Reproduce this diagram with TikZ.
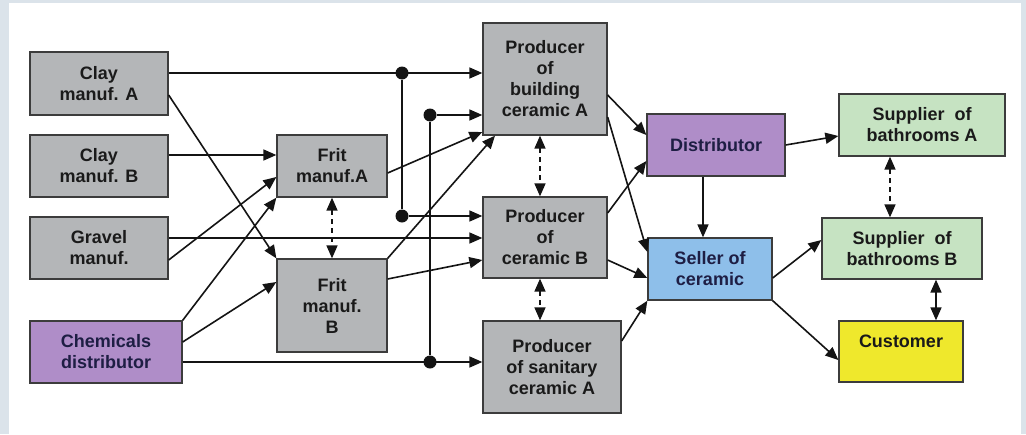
\documentclass[tikz,border=0pt]{standalone}
\usepackage{fontspec}
\setmainfont{Liberation Sans}
\usetikzlibrary{arrows.meta}

\definecolor{frame}{HTML}{DBE3EA}
\definecolor{boxline}{HTML}{3C3C3C}
\definecolor{linec}{HTML}{141414}
\definecolor{txtdark}{HTML}{1A1A1A}
\definecolor{txtnavy}{HTML}{1E1E44}
\definecolor{fgrey}{HTML}{B4B6B8}
\definecolor{fpurple}{HTML}{AF8DC8}
\definecolor{fblue}{HTML}{8EBFEA}
\definecolor{fgreen}{HTML}{C6E3C2}
\definecolor{fyellow}{HTML}{EFE82C}

% box given by its corners (x1,y1)-(x2,y2), y measured downwards
\newcommand\mkbox[7]{%
  \node[#6, minimum width={#4-#2}, minimum height={#5-#3}] (#1)
    at ({(#2+#4)/2},{(#3+#5)/2}) {#7};}

\tikzset{
  box/.style={draw=boxline, line width=1.3pt, inner sep=0pt, align=center,
    font=\fontsize{18}{21}\selectfont\bfseries, text=txtdark},
  greybox/.style={box, fill=fgrey},
  purplebox/.style={box, fill=fpurple, text=txtnavy},
  bluebox/.style={box, fill=fblue, text=txtnavy},
  greenbox/.style={box, fill=fgreen},
  yellowbox/.style={box, fill=fyellow},
  tip/.tip={Triangle[length=13pt,width=11pt]},
  link/.style={line width=1.6pt, draw=linec, -tip},
  twoway/.style={line width=1.6pt, draw=linec, tip-tip},
  dashlink/.style={twoway, dash pattern=on 5pt off 4pt},
  dot/.style={circle, fill=linec, inner sep=0pt, minimum size=13pt}
}

\begin{document}
\begin{tikzpicture}[x=1pt, y=-1pt]
  % frame and white sheet
  \fill[frame] (0,0) rectangle (1026,434);
  \fill[white] (9,3) rectangle (1021,434);
  \useasboundingbox (0,0) rectangle (1026,434);

  % suppliers of raw materials
  \mkbox{clayA}{30}{52}{168}{115}{greybox}{Clay\\manuf. A}
  \mkbox{clayB}{30}{135}{168}{197}{greybox}{Clay\\manuf. B}
  \mkbox{gravel}{30}{217}{168}{279}{greybox}{Gravel\\manuf.}
  \mkbox{chem}{30}{321}{182}{383}{purplebox}{Chemicals\\distributor}

  % frit makers
  \mkbox{fritA}{277}{135}{387}{197}{greybox}{Frit\\manuf.A}
  \mkbox{fritB}{277}{259}{387}{352}{greybox}{Frit\\manuf.\\B}

  % ceramic producers
  \mkbox{prodA}{483}{23}{607}{135}{greybox}{Producer\\of\\building\\ceramic A}
  \mkbox{prodB}{483}{197}{607}{278}{greybox}{Producer\\of\\ceramic B}
  \mkbox{prodS}{483}{321}{621}{413}{greybox}{Producer\\of sanitary\\ceramic A}

  % trade
  \mkbox{dist}{647}{114}{785}{176}{purplebox}{Distributor}
  \mkbox{seller}{648}{238}{772}{300}{bluebox}{Seller of\\ceramic}
  \mkbox{supA}{839}{94}{1005}{156}{greenbox}{Supplier\ \ of\\bathrooms A}
  \mkbox{supB}{822}{218}{982}{279}{greenbox}{Supplier\ \ of\\bathrooms B}
  \mkbox{cust}{839}{321}{963}{382}{yellowbox}{Customer\\\mbox{}}

  % junction points
  \node[dot] (j1) at (402,73) {};
  \node[dot] (j2) at (430,115) {};
  \node[dot] (j3) at (402,216) {};
  \node[dot] (j4) at (430,362) {};

  % raw materials to producers
  \draw[link] (clayA.east |- j1) -- (prodA.west |- j1);
  \draw[link] (j1) -- (j3) -- (prodB.west |- j3);
  \draw[link] (chem.east |- j4) -- (prodS.west |- j4);
  \draw[link] (j4) -- (j2) -- (prodA.west |- j2);
  \draw[link] (gravel.east |- 0,238) -- (prodB.west |- 0,238);

  % raw materials to frit makers
  \draw[link] (clayB.east |- 0,155) -- (fritA.west |- 0,155);
  \draw[link] (gravel.east |- 0,260) -- (fritA.west |- 0,177);
  \draw[link] (chem.north east) -- (fritA.south west);
  \draw[link] (chem.east |- 0,342) -- (fritB.west |- 0,282);
  \draw[link] (clayA.east |- 0,95) -- (fritB.north west);

  % frit to producers
  \draw[link] (fritA.east |- 0,173) -- (prodA.west |- 0,132);
  \draw[link] (fritB.north east) -- (prodA.south -| 495,0);
  \draw[link] (fritB.east |- 0,279) -- (prodB.west |- 0,260);

  % links between peers
  \draw[dashlink] (fritA.south) -- (fritB.north);
  \draw[dashlink] (prodA.south -| 540,0) -- (prodB.north -| 540,0);
  \draw[dashlink] (prodB.south -| 540,0) -- (prodS.north -| 540,0);
  \draw[dashlink] (supA.south -| 890,0) -- (supB.north -| 890,0);
  \draw[twoway] (supB.south -| 936,0) -- (cust.north -| 936,0);

  % producers to trade
  \draw[link] (prodA.east |- 0,95) -- (dist.west |- 0,135);
  \draw[link] (prodA.east |- 0,117) -- (seller.west |- 0,252);
  \draw[link] (prodB.east |- 0,213) -- (dist.west |- 0,161);
  \draw[link] (prodB.east |- 0,260) -- (seller.west |- 0,278);
  \draw[link] (prodS.east |- 0,341) -- (seller.south west);

  % trade to bathrooms and customer
  \draw[link] (dist.south -| 703,0) -- (seller.north -| 703,0);
  \draw[link] (dist.east |- 0,145) -- (supA.west |- 0,136);
  \draw[link] (seller.east |- 0,278) -- (supB.west |- 0,240);
  \draw[link] (seller.south east) -- (cust.west |- 0,360);
\end{tikzpicture}
\end{document}
